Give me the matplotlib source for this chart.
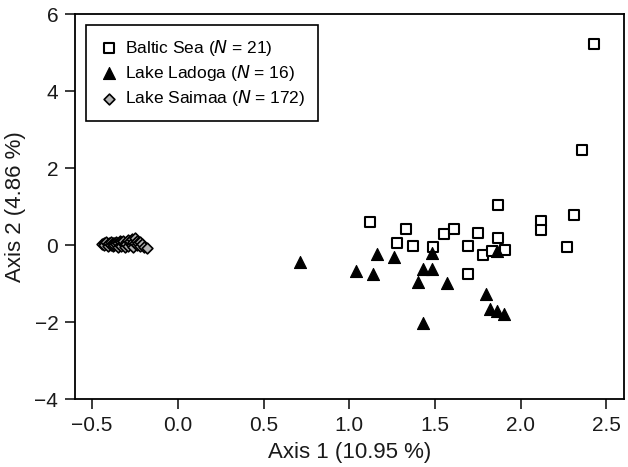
import matplotlib
matplotlib.use("Agg")
import matplotlib.pyplot as plt

plt.rcParams['font.family'] = ['Liberation Sans', 'DejaVu Sans']

# Baltic Sea (N = 21)
baltic_x = [1.12, 1.33, 1.28, 1.37, 1.49, 1.55, 1.61, 1.69, 1.75, 1.69, 1.78,
            1.83, 1.87, 1.91, 1.87, 2.12, 2.12, 2.31, 2.27, 2.43, 2.36]
baltic_y = [0.60, 0.42, 0.06, -0.03, -0.06, 0.29, 0.41, -0.02, 0.30, -0.75, -0.25,
            -0.16, 0.18, -0.14, 1.03, 0.62, 0.39, 0.78, -0.05, 5.22, 2.47]

# Lake Ladoga (N = 16)
ladoga_x = [0.71, 1.16, 1.26, 1.48, 1.04, 1.14, 1.43, 1.48, 1.40, 1.57,
            1.80, 1.82, 1.86, 1.90, 1.43, 1.86]
ladoga_y = [-0.44, -0.23, -0.31, -0.20, -0.68, -0.75, -0.63, -0.63, -0.97, -0.99,
            -1.28, -1.65, -1.71, -1.80, -2.02, -0.16]

# Lake Saimaa (N = 172), dense overlapping cluster
saimaa_x = [-0.44, -0.43, -0.43, -0.42, -0.41, -0.41, -0.40, -0.39, -0.39, -0.38,
            -0.38, -0.37, -0.37, -0.36, -0.36, -0.35, -0.35, -0.34, -0.34, -0.33,
            -0.33, -0.32, -0.32, -0.31, -0.31, -0.30, -0.30, -0.29, -0.29, -0.28,
            -0.28, -0.27, -0.27, -0.26, -0.26, -0.25, -0.25, -0.24, -0.24, -0.23,
            -0.22, -0.22, -0.21, -0.20, -0.18]
saimaa_y = [0.03, 0.05, 0.00, 0.07, 0.02, -0.02, 0.05, 0.08, 0.01, -0.03,
            0.04, 0.06, -0.01, 0.09, 0.02, -0.04, 0.05, 0.10, 0.00, 0.07,
            -0.03, 0.04, 0.11, 0.01, -0.05, 0.08, 0.03, 0.13, -0.02, 0.06,
            0.10, 0.01, 0.15, 0.07, -0.04, 0.17, 0.04, 0.11, -0.01, 0.06,
            0.09, -0.03, 0.02, -0.05, -0.09]

fig = plt.figure(figsize=(6.28, 4.67), dpi=100)
ax = fig.add_axes([0.1194, 0.1456, 0.8736, 0.8244])

ax.scatter(baltic_x, baltic_y, marker='s', s=42, facecolor='white',
           edgecolor='black', linewidth=1.5, zorder=3, label='Baltic Sea ($N$ = 21)')
ax.scatter(ladoga_x, ladoga_y, marker='^', s=75, facecolor='black',
           edgecolor='black', linewidth=0.8, zorder=4, label='Lake Ladoga ($N$ = 16)')
ax.scatter(saimaa_x, saimaa_y, marker='D', s=30, facecolor='#b4b4b4',
           edgecolor='black', linewidth=1.2, zorder=3, label='Lake Saimaa ($N$ = 172)')

ax.set_xlim(-0.6, 2.6)
ax.set_ylim(-4, 6)
ax.set_xticks([-0.5, 0.0, 0.5, 1.0, 1.5, 2.0, 2.5])
ax.set_yticks([-4, -2, 0, 2, 4, 6])
ax.set_xticklabels(['\u22120.5', '0.0', '0.5', '1.0', '1.5', '2.0', '2.5'])
ax.set_yticklabels(['\u22124', '\u22122', '0', '2', '4', '6'])
ax.tick_params(direction='out', length=7, width=1.2, labelsize=15, pad=5,
               colors='#1a1a1a')
for sp in ax.spines.values():
    sp.set_linewidth(1.3)

ax.set_xlabel('Axis 1 (10.95 %)', fontsize=16, color='#1a1a1a', labelpad=5)
ax.set_ylabel('Axis 2 (4.86 %)', fontsize=16, color='#1a1a1a', labelpad=6)

leg = ax.legend(loc='upper left', bbox_to_anchor=(0.02, 0.972), fontsize=12.5,
                frameon=True, fancybox=False, framealpha=1, edgecolor='black',
                handletextpad=0.3, borderpad=0.75, labelspacing=0.3,
                handlelength=1.2, borderaxespad=0)
leg.get_frame().set_linewidth(1.2)

fig.savefig('out.png', dpi=100)
